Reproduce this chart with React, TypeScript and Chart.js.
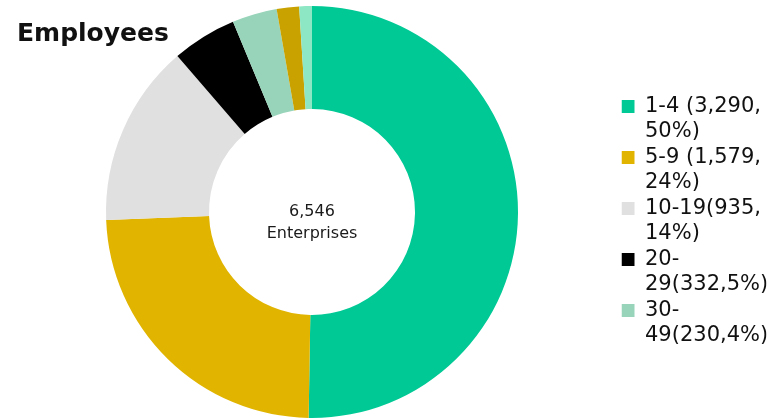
import React, { useEffect, useRef } from "react";
import { Chart, registerables } from "chart.js";

Chart.register(...registerables);

const categories = ["1-4", "5-9", "10-19", "20-29", "30-49", "50-99", "100+"];
const employees = [3290, 1579, 935, 332, 230, 115, 65];
const sliceColors = ["#00C995", "#E1B400", "#E0E0E0", "#000000", "#97D4B9", "#C9A200", "#8DE6C4"];
const legendLines = [
  ["1-4 (3,290,", "50%)"],
  ["5-9 (1,579,", "24%)"],
  ["10-19(935,", "14%)"],
  ["20-", "29(332,5%)"],
  ["30-", "49(230,4%)"],
];
const chartTitle = "Employees";
const centerLines = ["6,546", "Enterprises"];

const FONT = "'DejaVu Sans', Verdana, sans-serif";

const overlayPlugin = {
  id: "overlayText",
  afterDraw(chart: any) {
    const ctx = chart.ctx;
    ctx.save();
    ctx.fillStyle = "#111";
    ctx.font = `bold 25px ${FONT}`;
    ctx.textAlign = "left";
    ctx.textBaseline = "alphabetic";
    ctx.fillText(chartTitle, 17, 41);
    const meta = chart.getDatasetMeta(0);
    const arc = meta.data[0];
    const cx = arc ? arc.x : (chart.chartArea.left + chart.chartArea.right) / 2;
    const cy = arc ? arc.y : (chart.chartArea.top + chart.chartArea.bottom) / 2;
    ctx.fillStyle = "#1a1a1a";
    ctx.font = `16px ${FONT}`;
    ctx.textAlign = "center";
    ctx.textBaseline = "middle";
    ctx.fillText(centerLines[0], cx, cy);
    ctx.fillText(centerLines[1], cx, cy + 22);
    ctx.restore();
  },
};

export default function App() {
  const ref = useRef<HTMLCanvasElement | null>(null);
  useEffect(() => {
    if (!ref.current) return;
    const chart = new Chart(ref.current, {
      type: "doughnut",
      data: {
        labels: categories,
        datasets: [
          {
            data: employees,
            backgroundColor: sliceColors,
            borderWidth: 0,
            hoverOffset: 0,
          },
        ],
      },
      options: {
        animation: false,
        responsive: true,
        maintainAspectRatio: false,
        events: [],
        cutout: "50%",
        layout: { padding: { top: 6, bottom: 1, left: 2.5, right: 6.5 } },
        plugins: {
          tooltip: { enabled: false },
          legend: {
            position: "right",
            maxWidth: 145,
            title: { display: true, text: " ", font: { size: 10, lineHeight: 2.3 }, padding: 0 },
            labels: {
              boxWidth: 13,
              boxHeight: 13,
              padding: 0,
              color: "#111",
              font: { family: FONT, size: 21, lineHeight: "25.5px" },
              generateLabels: () =>
                legendLines.map((lines, i) => ({
                  text: lines,
                  fillStyle: sliceColors[i],
                  strokeStyle: sliceColors[i],
                  lineWidth: 0,
                  hidden: false,
                  index: i,
                  fontColor: "#111",
                })),
            },
          },
        },
      },
      plugins: [overlayPlugin],
    } as any);
    return () => chart.destroy();
  }, []);
  return (
    <div style={{ position: "fixed", left: 0, top: 0, width: 773, height: 419 }}>
      <canvas ref={ref} />
    </div>
  );
}
